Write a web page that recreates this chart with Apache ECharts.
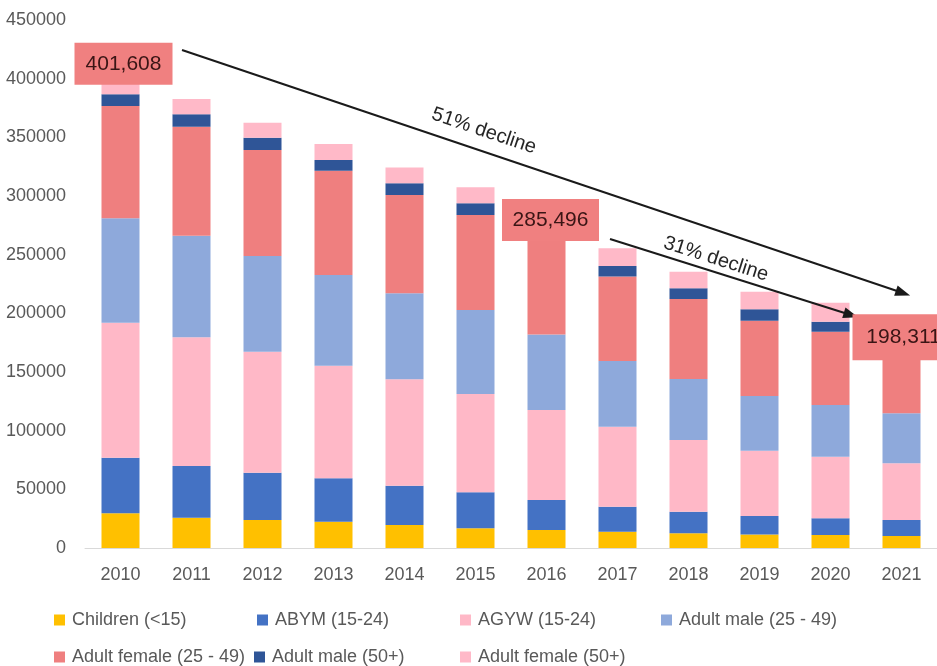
<!DOCTYPE html>
<html>
<head>
<meta charset="utf-8">
<script src="https://cdn.jsdelivr.net/npm/echarts@6/dist/echarts.min.js"></script>
<style>
  html, body { margin: 0; padding: 0; background: #fff; }
  #main { width: 937px; height: 666px; }
</style>
</head>
<body>
<div id="main"></div>
<script>
// 年份
var years = ['2010', '2011', '2012', '2013', '2014', '2015', '2016', '2017', '2018', '2019', '2020', '2021']

// 各人群（堆叠顺序由下至上）
var children = [29600, 25800, 23900, 22400, 19600, 16800, 15300, 13900, 12500, 11600, 11100, 10200]
var abym = [47400, 44100, 40300, 37000, 33500, 30700, 25600, 21300, 18400, 15700, 14200, 13700]
var agyw = [115000, 109700, 103100, 96000, 90700, 83800, 76700, 68200, 61100, 55600, 52500, 48300]
var adultMale = [89000, 86600, 81600, 77300, 73300, 71500, 64400, 56000, 52000, 46600, 44100, 42600]
var adultFemale = [95700, 92900, 90300, 88900, 83800, 81000, 81496, 71900, 68200, 64200, 62500, 61511]
var adultMale50 = [10000, 10500, 10500, 9100, 9900, 10000, 9500, 9000, 9100, 9700, 8500, 8000]
var adultFemale50 = [14908, 13100, 12800, 13600, 13400, 13600, 12500, 15100, 14200, 15100, 16200, 14000]

// 标注的年份
var markedYears = ['2010', '2016', '2021']
var declineTexts = ['51% decline', '31% decline']

var groups = [
  { name: 'Children (<15)', data: children, color: '#FFC000' },
  { name: 'ABYM (15-24)', data: abym, color: '#4472C4' },
  { name: 'AGYW (15-24)', data: agyw, color: '#FFB8C7' },
  { name: 'Adult male (25 - 49)', data: adultMale, color: '#8EA9DB' },
  { name: 'Adult female (25 - 49)', data: adultFemale, color: '#EF7F7F' },
  { name: 'Adult male (50+)', data: adultMale50, color: '#2F5597' },
  { name: 'Adult female (50+)', data: adultFemale50, color: '#FFB9C8' }
]

var totals = years.map(function (y, i) {
  return groups.reduce(function (s, g) { return s + g.data[i] }, 0)
})

var FONT = 'Liberation Sans'
var GREY = '#595959'

// 图例位置
var legendPos = [
  [54, 610], [257, 610], [460, 610], [661, 610],
  [54, 647], [254, 647], [460, 647]
]
var legends = groups.map(function (g, i) {
  return {
    data: [g.name],
    left: legendPos[i][0],
    top: legendPos[i][1],
    padding: 0,
    itemWidth: 11,
    itemHeight: 11,
    icon: 'rect',
    selectedMode: false,
    textStyle: { color: GREY, fontSize: 18, fontFamily: FONT, lineHeight: 20, padding: [0, 0, 0, 2] }
  }
})

var barSeries = groups.map(function (g) {
  return {
    name: g.name,
    type: 'bar',
    stack: 'total',
    barWidth: 38,
    itemStyle: { color: g.color },
    data: g.data
  }
})

// 总数标签框
var boxOffsets = [[3, -13], [4, 7], [2, 22]]
var boxSizes = [[98, 42], [97, 42], [102, 46]]
var boxData = markedYears.map(function (y, i) {
  var idx = years.indexOf(y)
  return {
    value: [y, totals[idx]],
    symbolOffset: boxOffsets[i],
    symbolSize: boxSizes[i]
  }
})

var option = {
  animation: false,
  backgroundColor: '#fff',
  grid: { left: 85, right: 0, top: 20, bottom: 118 },
  legend: legends,
  xAxis: {
    type: 'category',
    data: years,
    axisTick: { show: false },
    axisLine: { lineStyle: { color: '#D9D9D9', width: 1 } },
    axisLabel: { color: GREY, fontSize: 18, fontFamily: FONT, margin: 18 }
  },
  yAxis: {
    type: 'value',
    min: 0,
    max: 450000,
    interval: 50000,
    splitLine: { show: false },
    axisLine: { show: false },
    axisTick: { show: false },
    axisLabel: {
      color: GREY,
      fontSize: 18,
      fontFamily: FONT,
      margin: 19,
      formatter: function (v) { return String(v) }
    }
  },
  series: barSeries.concat([{
    name: 'Total',
    type: 'scatter',
    z: 5,
    symbol: 'rect',
    itemStyle: { color: '#F08080', opacity: 1 },
    label: {
      show: true,
      position: 'inside',
      color: '#3A1515',
      fontSize: 21,
      fontFamily: FONT,
      formatter: function (p) { return p.value[1].toLocaleString('en-US') }
    },
    data: boxData,
    markLine: {
      silent: true,
      symbol: ['none', 'triangle'],
      symbolSize: [11, 15],
      label: { show: false },
      lineStyle: { color: '#1A1A1A', width: 2, type: 'solid' },
      data: [
        [{ x: 182, y: 50 }, { x: 903, y: 293 }],
        [{ x: 610, y: 239 }, { x: 851, y: 315 }]
      ]
    }
  }]),
  graphic: [
    {
      type: 'text', x: 484, y: 131, rotation: -0.325,
      style: { text: declineTexts[0], fill: '#262626', font: '20px ' + FONT, align: 'center', verticalAlign: 'middle' }
    },
    {
      type: 'text', x: 716, y: 259, rotation: -0.31,
      style: { text: declineTexts[1], fill: '#262626', font: '20px ' + FONT, align: 'center', verticalAlign: 'middle' }
    }
  ]
}

var myChart = echarts.init(document.getElementById('main'))
myChart.setOption(option)
</script>
</body>
</html>
